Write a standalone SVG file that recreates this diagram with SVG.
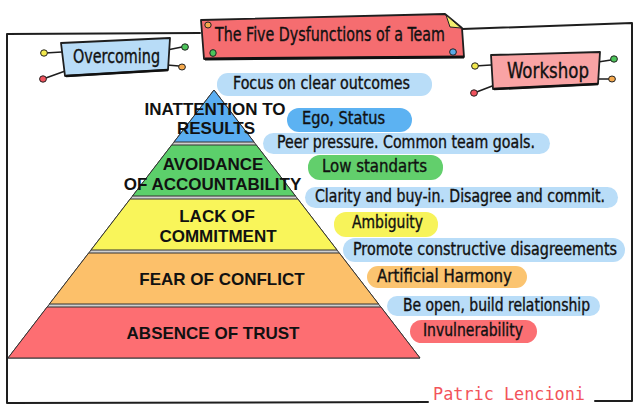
<svg xmlns="http://www.w3.org/2000/svg" width="640" height="418" viewBox="0 0 640 418">
<style>
.frame{fill:none;stroke:#1e1e1e;stroke-width:2;stroke-linecap:round;stroke-linejoin:round}
.box{stroke:#1e1e1e;stroke-width:1.8;stroke-linejoin:round}
.lay{stroke:#333;stroke-width:1}
.pt{font-family:"Liberation Sans",Arial,sans-serif;font-weight:bold;font-size:17px;fill:#111;text-anchor:middle}
.hw{font-family:"DejaVu Sans Condensed","DejaVu Sans",sans-serif;font-stretch:condensed;fill:#111;stroke:#111;stroke-width:0.35;font-size:17px}
.big{font-size:20px}
.wk{font-size:21px}
.pill{stroke:none}
.lb{fill:#b9ddf8}
.dot{stroke:#222;stroke-width:1}
.con{fill:none;stroke:#1e1e1e;stroke-width:1.6;stroke-linecap:round}
</style>
<rect width="640" height="418" fill="#fff"/>
<g id="frame">
<path class="frame" d="M200 33 L7 34 L7 403 L428 402"/>
<path class="frame" d="M595 401 L632 401 L632 23 L462 29"/>
</g>
<g id="pyramid">
<polygon points="214,90 420,358 8,358" fill="#cfcfcf" stroke="#333" stroke-width="1"/>
<g id="layer-results"><polygon class="lay" points="214,90 254,142 174,142" fill="#5aaef2"/></g>
<g id="layer-accountability"><polygon class="lay" points="171.7,145 256.3,145 295.5,196 132.5,196" fill="#5ccf6b"/></g>
<g id="layer-commitment"><polygon class="lay" points="130.2,199 297.8,199 337,250 91,250" fill="#f9f55a"/></g>
<g id="layer-conflict"><polygon class="lay" points="88.7,253 339.3,253 378.6,304 49.4,304" fill="#fcc06a"/></g>
<g id="layer-trust"><polygon class="lay" points="47.1,307 380.9,307 420,358 8,358" fill="#fd6e72"/></g>
<text class="pt" x="215" y="115">INATTENTION TO</text>
<text class="pt" x="216" y="134">RESULTS</text>
<text class="pt" x="213" y="170">AVOIDANCE</text>
<text class="pt" x="212.5" y="190">OF ACCOUNTABILITY</text>
<text class="pt" x="217" y="222">LACK OF</text>
<text class="pt" x="218" y="242">COMMITMENT</text>
<text class="pt" x="222" y="285">FEAR OF CONFLICT</text>
<text class="pt" x="213" y="339">ABSENCE OF TRUST</text>
</g>
<g id="connectors">
<line class="con" x1="45" y1="53" x2="62" y2="52"/>
<line class="con" x1="43" y1="79" x2="68" y2="70"/>
<line class="con" x1="167" y1="50" x2="182" y2="47"/>
<line class="con" x1="167" y1="65" x2="179" y2="66"/>
<line class="con" x1="475" y1="66" x2="491" y2="65"/>
<line class="con" x1="474" y1="93" x2="500" y2="83"/>
<line class="con" x1="598" y1="62" x2="611" y2="60"/>
<line class="con" x1="598" y1="79" x2="609" y2="79"/>
</g>
<g id="title">
<polygon class="box" points="201,20 445,14 462,28 464,57 204,59" fill="#f56d70"/>
<polygon points="446,15 461,28 450,27" fill="#f3ee6e" stroke="#222" stroke-width="1"/>
<path d="M205 59 L464 57" stroke="#111" stroke-width="3" fill="none"/>
<ellipse class="dot" cx="208" cy="25" rx="3.2" ry="3" fill="#f5a94d"/>
<ellipse class="dot" cx="213" cy="53" rx="3.2" ry="3.4" fill="#4cc45a"/>
<ellipse class="dot" cx="453" cy="52" rx="3.4" ry="3.2" fill="#5aa9e6"/>
<text class="hw big" x="215" y="41" textLength="230" lengthAdjust="spacingAndGlyphs">The Five Dysfunctions of a Team</text>
</g>
<g id="overcoming">
<polygon class="box" points="61,43 170,38 168,70 65,76" fill="#b8dcf7"/>
<path d="M66 76 L168 70" stroke="#111" stroke-width="2.6" fill="none"/>
<ellipse class="dot" cx="44" cy="53" rx="3.4" ry="3.2" fill="#f2e94e"/>
<ellipse class="dot" cx="43" cy="79" rx="3.4" ry="3.2" fill="#f0525d"/>
<ellipse class="dot" cx="185" cy="47" rx="3.4" ry="3.2" fill="#4cc45a"/>
<ellipse class="dot" cx="182" cy="67" rx="3.4" ry="3" fill="#f5a94d"/>
<text class="hw big" x="73" y="63" textLength="87" lengthAdjust="spacingAndGlyphs">Overcoming</text>
</g>
<g id="workshop">
<polygon class="box" points="491,55 600,52 598,84 493,89" fill="#f9a3a4"/>
<path d="M494 89 L598 84" stroke="#111" stroke-width="2.6" fill="none"/>
<ellipse class="dot" cx="475" cy="66" rx="3.4" ry="3.2" fill="#f2e94e"/>
<ellipse class="dot" cx="474" cy="93" rx="3.4" ry="3.2" fill="#f0525d"/>
<ellipse class="dot" cx="614" cy="59" rx="3.4" ry="3.2" fill="#4cc45a"/>
<ellipse class="dot" cx="612" cy="79" rx="3.4" ry="3" fill="#f5a94d"/>
<text class="hw wk" x="507" y="78" textLength="82" lengthAdjust="spacingAndGlyphs">Workshop</text>
</g>
<g id="notes">
<g id="n-focus"><rect class="pill lb" x="217" y="73" width="215" height="23" rx="11"/><text class="hw" x="233" y="89" textLength="177" lengthAdjust="spacingAndGlyphs">Focus on clear outcomes</text></g>
<g id="n-ego"><rect class="pill" x="287" y="108" width="125" height="24" rx="12" fill="#5cb2f2"/><text class="hw" x="302" y="124" textLength="83" lengthAdjust="spacingAndGlyphs">Ego, Status</text></g>
<g id="n-peer"><rect class="pill lb" x="263" y="133" width="287" height="21" rx="10.5"/><text class="hw" x="277" y="148" textLength="258" lengthAdjust="spacingAndGlyphs">Peer pressure. Common team goals.</text></g>
<g id="n-low"><rect class="pill" x="308" y="155" width="135" height="25" rx="12" fill="#62cf6c"/><text class="hw" x="322" y="172" textLength="105" lengthAdjust="spacingAndGlyphs">Low standarts</text></g>
<g id="n-clarity"><rect class="pill lb" x="305" y="187" width="313" height="21" rx="10.5"/><text class="hw" x="315" y="202" textLength="290" lengthAdjust="spacingAndGlyphs">Clarity and buy-in. Disagree and commit.</text></g>
<g id="n-ambiguity"><rect class="pill" x="334" y="212" width="104" height="25" rx="12" fill="#f7f35a"/><text class="hw" x="352" y="228" textLength="71" lengthAdjust="spacingAndGlyphs">Ambiguity</text></g>
<g id="n-promote"><rect class="pill lb" x="343" y="238" width="282" height="24" rx="12"/><text class="hw" x="353" y="255" textLength="264" lengthAdjust="spacingAndGlyphs">Promote constructive disagreements</text></g>
<g id="n-artificial"><rect class="pill" x="367" y="266" width="160" height="22" rx="11" fill="#fbc470"/><text class="hw" x="377" y="282" textLength="135" lengthAdjust="spacingAndGlyphs">Artificial Harmony</text></g>
<g id="n-open"><rect class="pill lb" x="387" y="296" width="213" height="20" rx="10"/><text class="hw" x="403" y="311" textLength="187" lengthAdjust="spacingAndGlyphs">Be open, build relationship</text></g>
<g id="n-invul"><rect class="pill" x="410" y="320" width="127" height="23" rx="11.5" fill="#fb6f73"/><text class="hw" x="423" y="336" textLength="100" lengthAdjust="spacingAndGlyphs">Invulnerability</text></g>
</g>
<g id="author">
<text x="433" y="400" font-family="'DejaVu Sans Mono','Liberation Mono',monospace" font-size="18" fill="#f2545b" textLength="152" lengthAdjust="spacingAndGlyphs">Patric Lencioni</text>
</g>
</svg>
